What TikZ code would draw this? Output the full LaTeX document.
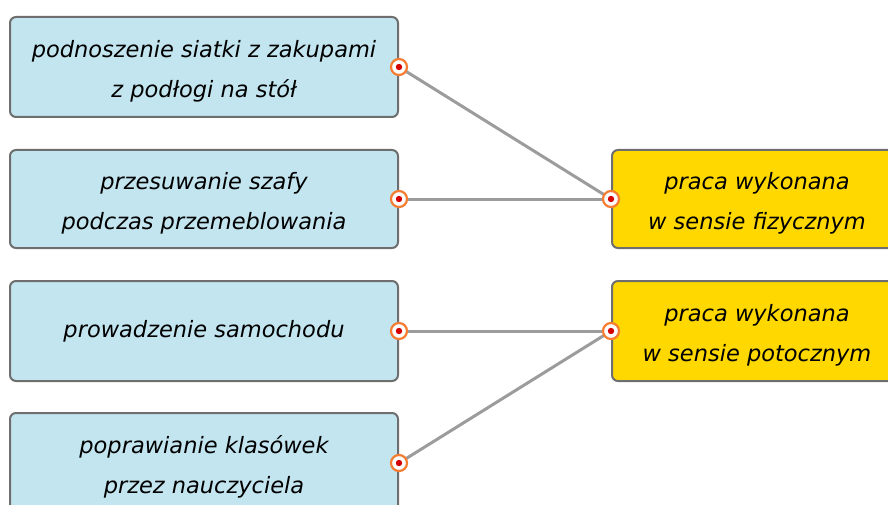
\documentclass[tikz,border=0pt]{standalone}
\usepackage{fontspec}
\setmainfont{DejaVu Sans}
\definecolor{boxblue}{HTML}{C2E5F0}
\definecolor{boxyellow}{HTML}{FFD800}
\definecolor{boxborder}{HTML}{6E6E6E}
\definecolor{linegray}{HTML}{9C9C9C}
\definecolor{dotorange}{HTML}{F57C30}
\definecolor{dotred}{HTML}{D40000}
\newcommand{\topstrut}{\rule{0pt}{26pt}}
\begin{document}
\begin{tikzpicture}[x=1pt,y=-1pt,
  card/.style={draw=boxborder, line width=2pt, rounded corners=6pt, align=center,
    inner sep=0pt, font={\fontsize{22.5}{40}\selectfont\itshape}},
  leftcard/.style={card, fill=boxblue, minimum width=388pt},
  rightcard/.style={card, fill=boxyellow, minimum width=290pt},
  dot/.style={circle, draw=dotorange, line width=2.2pt, fill=white, minimum size=16pt, inner sep=0pt,
    path picture={\fill[dotred] (path picture bounding box.center) circle (3.2pt);}},
  link/.style={draw=linegray, line width=3pt}
]
\useasboundingbox (0,0) rectangle (888,505);
\node[leftcard, minimum height=100pt] (a1) at (204,67) {\topstrut podnoszenie siatki z zakupami\\z podłogi na stół};
\node[leftcard, minimum height=98pt] (a2) at (204,199) {\topstrut przesuwanie szafy\\podczas przemeblowania};
\node[leftcard, minimum height=100pt] (a3) at (204,331) {prowadzenie samochodu};
\node[leftcard, minimum height=100pt] (a4) at (204,463) {\topstrut poprawianie klasówek\\przez nauczyciela};
\node[rightcard, minimum height=98pt] (b1) at (757,199) {\topstrut praca wykonana\\w sensie fizycznym};
\node[rightcard, minimum height=100pt] (b2) at (757,331) {\topstrut praca wykonana\\w sensie potocznym};
\path[link] (a1.east) -- (b1.west);
\path[link] (a2.east) -- (b1.west);
\path[link] (a3.east) -- (b2.west);
\path[link] (a4.east) -- (b2.west);
\node[dot] (d1) at (a1.east) {};
\node[dot] (d2) at (a2.east) {};
\node[dot] (d3) at (a3.east) {};
\node[dot] (d4) at (a4.east) {};
\node[dot] (e1) at (b1.west) {};
\node[dot] (e2) at (b2.west) {};
\end{tikzpicture}
\end{document}
